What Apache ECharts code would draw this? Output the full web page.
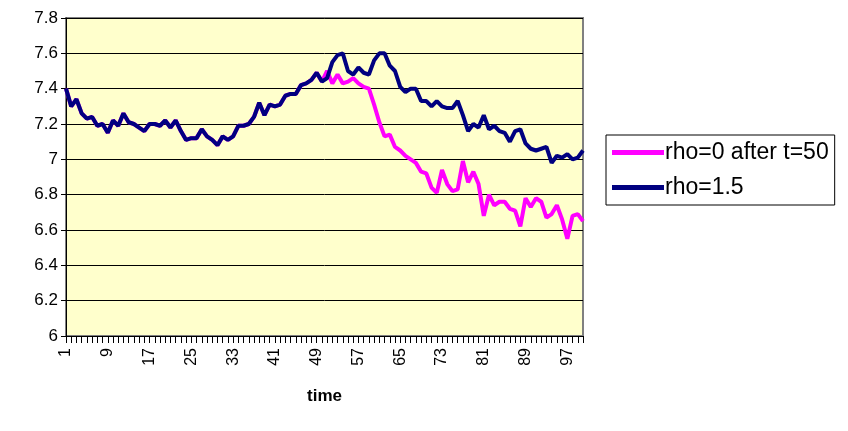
<!DOCTYPE html>
<html>
<head>
<meta charset="utf-8">
<script src="https://cdn.jsdelivr.net/npm/echarts@6/dist/echarts.min.js"></script>
<style>html,body{margin:0;padding:0;background:#fff}#main{width:848px;height:431px}</style>
</head>
<body>
<div id="main"></div>
<script>
var time = [];
for (var t = 1; t <= 100; t++) time.push(String(t));

var rhoHigh = [7.40, 7.30, 7.34, 7.26, 7.23, 7.24, 7.19, 7.20, 7.15, 7.22,
    7.19, 7.26, 7.21, 7.20, 7.18, 7.16, 7.20, 7.20, 7.19, 7.22,
    7.18, 7.22, 7.16, 7.11, 7.12, 7.12, 7.17, 7.13, 7.11, 7.08,
    7.13, 7.11, 7.13, 7.19, 7.19, 7.20, 7.24, 7.32, 7.25, 7.31,
    7.30, 7.31, 7.36, 7.37, 7.37, 7.42, 7.43, 7.45, 7.49, 7.44,
    7.46, 7.55, 7.59, 7.60, 7.50, 7.48, 7.52, 7.49, 7.48, 7.56,
    7.60, 7.60, 7.53, 7.50, 7.41, 7.38, 7.40, 7.40, 7.33, 7.33,
    7.30, 7.33, 7.30, 7.29, 7.29, 7.33, 7.25, 7.16, 7.20, 7.18,
    7.25, 7.17, 7.19, 7.16, 7.15, 7.10, 7.16, 7.17, 7.09, 7.06,
    7.05, 7.06, 7.07, 6.98, 7.02, 7.01, 7.03, 7.00, 7.01, 7.05];

var rhoZeroTail = [7.50, 7.43, 7.48, 7.43, 7.44, 7.46, 7.43, 7.41, 7.40, 7.31,
    7.21, 7.13, 7.14, 7.07, 7.05, 7.02, 7.00, 6.98, 6.93, 6.92,
    6.84, 6.81, 6.94, 6.86, 6.82, 6.83, 6.99, 6.87, 6.93, 6.86,
    6.68, 6.80, 6.74, 6.76, 6.76, 6.72, 6.71, 6.62, 6.78, 6.73,
    6.78, 6.76, 6.67, 6.69, 6.74, 6.66, 6.55, 6.68, 6.69, 6.65];

// before t=50 both runs share the same path
var rhoZero = rhoHigh.slice(0, 50).concat(rhoZeroTail);

var chart = echarts.init(document.getElementById('main'));
chart.setOption({
    animation: false,
    textStyle: { fontFamily: 'Liberation Sans, Arial, sans-serif' },
    grid: { left: 66, right: 265, top: 18, bottom: 95, show: true, backgroundColor: '#FFFFCC', borderColor: '#808080', borderWidth: 2 },
    legend: {
        orient: 'vertical', left: 606, top: 135, itemGap: 12,
        padding: [6, 6, 6, 6],
        borderColor: '#000', borderWidth: 1,
        itemWidth: 52, itemHeight: 5,
        icon: 'rect',
        textStyle: { fontSize: 23, color: '#000', padding: [0, 0, 0, -4] },
        data: ['rho=0 after t=50', 'rho=1.5']
    },
    xAxis: {
        type: 'category', data: time, boundaryGap: false,
        name: 'time', nameLocation: 'middle', nameGap: 52,
        nameTextStyle: { fontSize: 17, fontWeight: 'bold', color: '#000' },
        axisLine: { lineStyle: { color: '#000' } },
        axisTick: { interval: 0, length: 7, lineStyle: { color: '#000' } },
        axisLabel: { rotate: 90, fontSize: 16, color: '#000', margin: 12,
            interval: function (i) { return i % 8 === 0; } },
        splitLine: { show: false }
    },
    yAxis: {
        type: 'value', min: 6, max: 7.8, interval: 0.2,
        axisLine: { show: true, lineStyle: { color: '#000' } },
        axisTick: { show: true, lineStyle: { color: '#000' } },
        axisLabel: { fontSize: 17, color: '#000',
            formatter: function (v) { return String(Math.round(v * 10) / 10); } },
        splitLine: { lineStyle: { color: '#000', width: 1 } }
    },
    series: [
        { name: 'rho=0 after t=50', type: 'line', data: rhoZero, showSymbol: false,
          color: '#FF00FF', lineStyle: { width: 4 } },
        { name: 'rho=1.5', type: 'line', data: rhoHigh, showSymbol: false,
          color: '#000080', lineStyle: { width: 4 } }
    ]
});
</script>
</body>
</html>
